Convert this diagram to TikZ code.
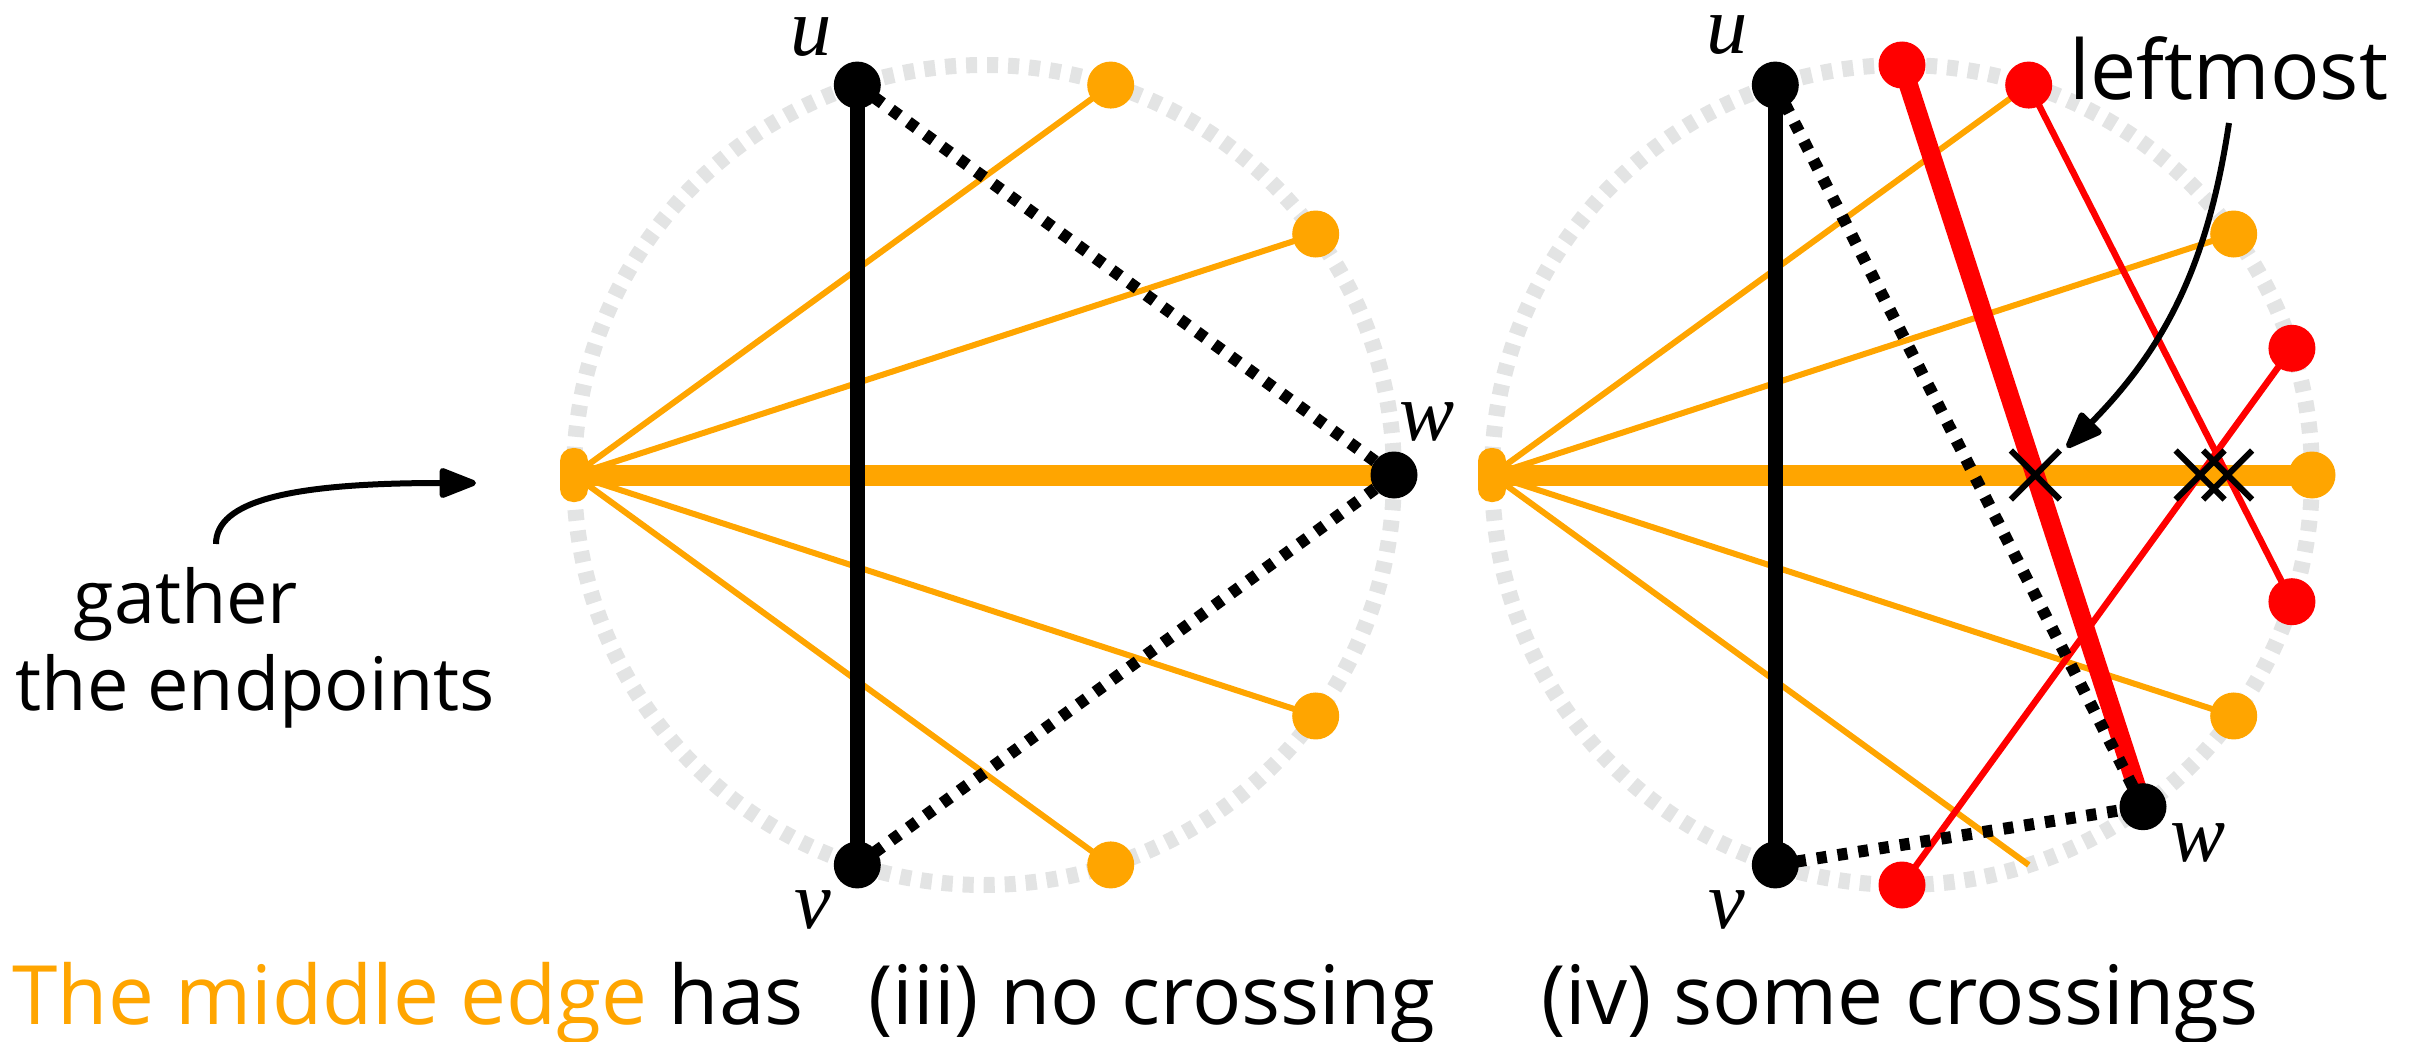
\documentclass[tikz,border=0pt]{standalone}
\usepackage{fontspec}
\setmainfont{Open Sans}
\newfontfamily\labfont{Liberation Serif}
\usetikzlibrary{arrows.meta,positioning,shapes.misc}

\definecolor{midorange}{RGB}{255,165,0}
\definecolor{ringgray}{RGB}{227,228,228}

\pgfdeclarelayer{bg}
\pgfsetlayers{bg,main}

\tikzset{
  ring/.style={ringgray, line width=0.16cm, dash pattern=on 0.11cm off 0.10cm},
  vdot/.style={circle, fill, inner sep=0pt, minimum size=0.47cm},
  blob/.style={rectangle, fill=midorange, rounded corners=0.13cm, inner sep=0pt,
    minimum width=0.28cm, minimum height=0.54cm},
  oedge/.style={midorange, line width=0.06cm},
  midedge/.style={midorange, line width=0.21cm},
  redge/.style={red, line width=0.065cm},
  rthick/.style={red, line width=0.19cm},
  bedge/.style={black, line width=0.15cm},
  bdots/.style={black, line width=0.12cm, dash pattern=on 0.1cm off 0.11cm},
  lab/.style={font=\labfont\itshape\fontsize{23.5}{27}\selectfont, inner sep=0pt, on grid},
  capt/.style={font=\fontsize{23.3}{28}\selectfont, inner sep=0pt},
  hit/.style={cross out, draw, line width=0.06cm, inner sep=0pt, minimum size=0.43cm},
  arr/.style={-{Triangle[length=0.42cm, width=0.31cm, round]}, line width=0.06cm},
}

\begin{document}
\begin{tikzpicture}
    \useasboundingbox (0,0) rectangle (24.15,10.41);

    % (iii) no crossing
    \begin{scope}[shift={(9.84,5.66)}]
        \node[blob] (g1) at (180:4.1) {};
        \node[vdot] (u1) at (108:4.1) {};
        \node[vdot] (v1) at (-108:4.1) {};
        \node[vdot] (w1) at (0:4.1) {};
        \node[vdot, midorange] (a72) at (72:4.1) {};
        \node[vdot, midorange] (a36) at (36:4.1) {};
        \node[vdot, midorange] (am36) at (-36:4.1) {};
        \node[vdot, midorange] (am72) at (-72:4.1) {};
        \begin{pgfonlayer}{bg}
            \draw[ring] (0,0) circle (4.1);
            \foreach \p in {a72,a36,am36,am72}
                \draw[oedge] (g1.center) -- (\p.center);
            \draw[midedge] (g1.center) -- (w1.center);
            \draw[bedge] (u1.center) -- (v1.center);
            \draw[bdots] (u1.center) -- (w1.center);
            \draw[bdots] (v1.center) -- (w1.center);
        \end{pgfonlayer}
    \end{scope}
    \node[lab, above left=0.48cm and 0.46cm of u1] (lu1) {u};
    \node[lab, below left=0.45cm and 0.44cm of v1] (lv1) {v};
    \node[lab, above right=0.53cm and 0.33cm of w1] (lw1) {w};

    % (iv) some crossings
    \begin{scope}[shift={(19.02,5.66)}]
        \node[blob] (g2) at (180:4.1) {};
        \node[vdot] (u2) at (108:4.1) {};
        \node[vdot] (v2) at (-108:4.1) {};
        \node[vdot] (w2) at (-54:4.1) {};
        \node[vdot, red] (r90) at (90:4.1) {};
        \node[vdot, red] (r72) at (72:4.1) {};
        \node[vdot, red] (r18) at (18:4.1) {};
        \node[vdot, red] (rm18) at (-18:4.1) {};
        \node[vdot, red] (rm90) at (-90:4.1) {};
        \node[vdot, midorange] (o36) at (36:4.1) {};
        \node[vdot, midorange] (o0) at (0:4.1) {};
        \node[vdot, midorange] (om36) at (-36:4.1) {};
        \coordinate (e72) at (-72:4.1);
        \begin{pgfonlayer}{bg}
            \draw[ring] (0,0) circle (4.1);
            \foreach \p in {r72,o36,om36,e72}
                \draw[oedge] (g2.center) -- (\p.center);
            \draw[midedge] (g2.center) -- (o0.center);
            \draw[redge] (r72.center) -- (rm18.center);
            \draw[redge] (r18.center) -- (rm90.center);
            \draw[rthick] (r90.center) -- (w2.center);
            \draw[bedge] (u2.center) -- (v2.center);
            \draw[bdots] (u2.center) -- (w2.center);
            \draw[bdots] (v2.center) -- (w2.center);
        \end{pgfonlayer}
    \end{scope}
    \node[lab, above left=0.5cm and 0.48cm of u2] (lu2) {u};
    \node[lab, below left=0.45cm and 0.48cm of v2] (lv2) {v};
    \node[lab, below right=0.36cm and 0.55cm of w2] (lw2) {w};

    % crossings on the middle edge
    \node[hit] (h1) at (intersection of g2.center--o0.center and r90.center--w2.center) {};
    \node[hit] (h2) at (intersection of g2.center--o0.center and r18.center--rm90.center) {};
    \node[hit] (h3) at (intersection of g2.center--o0.center and r72.center--rm18.center) {};

    \node[font=\fontsize{23.4}{28}\selectfont, inner sep=0pt, anchor=base] (lm) at (22.29,9.41) {leftmost};
    \draw[arr] ([yshift=-0.23cm]lm.base) to[bend left=18] ([xshift=0.07cm, yshift=0.03cm]h1.north east);

    \node[font=\fontsize{21}{24.75}\selectfont, align=left, inner sep=0pt, anchor=base west] (gt) at (0.15,3.31)
        {\hspace*{0.58cm}gather\\the endpoints};
    \coordinate (ga) at (2.16,4.97);
    \coordinate (gb) at (4.76,5.58);
    \draw[arr] (ga) .. controls (2.16,5.40) and (2.9,5.58) .. (gb);

    \node[capt, anchor=base west] (c0) at (0.12,0.17) {\textcolor{midorange}{The middle edge} has};
    \node[capt, anchor=base] (c1) at (11.52,0.17) {(iii) no crossing};
    \node[capt, anchor=base] (c2) at (19.00,0.17) {(iv) some crossings};
\end{tikzpicture}
\end{document}
